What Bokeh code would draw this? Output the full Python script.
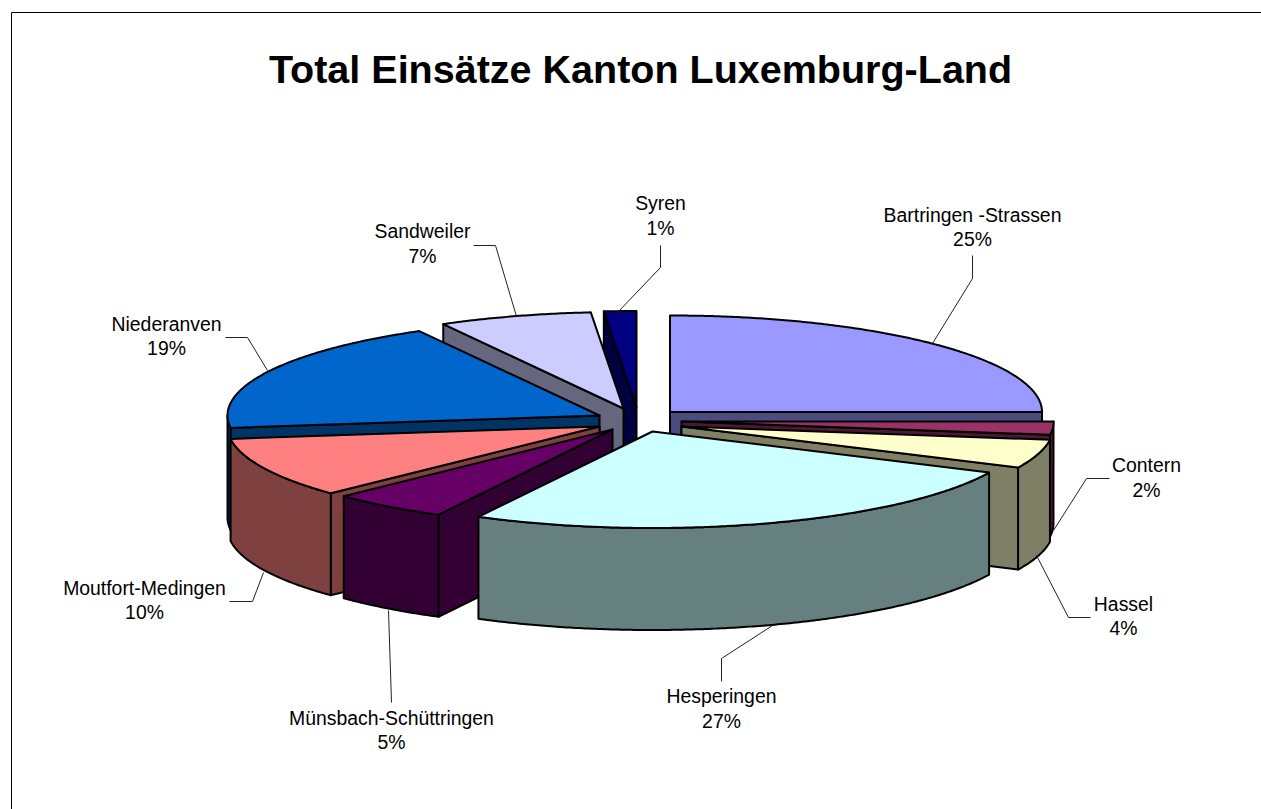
import numpy as np
from bokeh.plotting import figure
from bokeh.models import Range1d
from bokeh.core.properties import value
from bokeh.embed import file_html
from bokeh.resources import INLINE

# ---- data ----
TITLE = "Total Einsätze Kanton Luxemburg-Land"
names = ["Bartringen -Strassen", "Contern", "Hassel", "Hesperingen", "Münsbach-Schüttringen",
         "Moutfort-Medingen", "Niederanven", "Sandweiler", "Syren"]
shares = [25.0, 2.2, 4.8, 25.75, 5.1, 10.1, 19.0, 6.65, 1.4]   # slice sizes
percent_labels = ["25%", "2%", "4%", "27%", "5%", "10%", "19%", "7%", "1%"]
colors = ["#9999FF", "#993366", "#FFFFCC", "#CCFFFF", "#660066", "#FF8080", "#0066CC", "#CCCCFF", "#000080"]

# ---- layout ----
W, H = 1261, 809
CX, CY, RX, RY, DEPTH = 640, 420, 372, 96.5, 102
explode_dx = [29.5, 41, 41, 12, -28, -41, -41, -17, -4]
explode_dy = [-8.5, 1, 6, 11, 9, 6, -5, -12, -13]
paint_order = [8, 0, 7, 6, 1, 2, 5, 4, 3]
label_x = [972, 1146, 1123, 721, 391, 144, 166, 422, 660]
label_y1 = [214, 464, 603, 695, 717, 587, 323, 230, 202]
label_y2 = [238, 489, 627, 720, 741, 611, 347, 255, 227]
leaders_x = [[932, 972, 972], [1053, 1086, 1109], [1036, 1068, 1090], [772, 721, 721], [388, 391],
             [263, 252, 229], [267, 247, 225], [516, 495, 473], [617, 660, 660]]
leaders_y = [[343, 278, 255], [530, 478, 478], [555, 617, 617], [625, 658, 681], [610, 702],
             [572, 601, 601], [370, 337, 337], [316, 245, 245], [312, 267, 245]]
FONT = "Liberation Sans"


def shade(h, f=0.5):
    r, g, b = (int(h[i:i + 2], 16) for i in (1, 3, 5))
    return "#%02X%02X%02X" % (int(r * f), int(g * f), int(b * f))


def rim(ax, ay, a0, a1):
    t = np.radians(np.linspace(a0, a1, max(2, int(abs(a1 - a0) * 2) + 1)))
    return ax + RX * np.sin(t), ay - RY * np.cos(t)


edges = np.concatenate([[0], np.cumsum(shares)]) / sum(shares) * 360
xs, ys, fills = [], [], []
for i in paint_order:
    a0, a1 = edges[i], edges[i + 1]
    ax, ay = CX + explode_dx[i], CY + explode_dy[i]
    side = shade(colors[i])
    # cut faces that look towards the viewer
    for ang, visible in ((a0, -np.sin(np.radians(a0)) > 1e-6), (a1, np.sin(np.radians(a1)) > 1e-6)):
        if visible:
            ex, ey = rim(ax, ay, ang, ang)
            xs.append([ax, ex[0], ex[0], ax])
            ys.append([ay, ey[0], ey[0] + DEPTH, ay + DEPTH])
            fills.append(side)
    # outer wall (front half only)
    w0, w1 = max(a0, 90), min(a1, 270)
    if w1 > w0:
        wx, wy = rim(ax, ay, w0, w1)
        xs.append(list(wx) + list(wx[::-1]))
        ys.append(list(wy) + list(wy[::-1] + DEPTH))
        fills.append(side)
    # top face
    tx, ty = rim(ax, ay, a0, a1)
    xs.append([ax] + list(tx))
    ys.append([ay] + list(ty))
    fills.append(colors[i])

p = figure(width=W, height=H, output_backend="svg", toolbar_location=None,
           x_range=Range1d(0, W), y_range=Range1d(H, 0),
           x_axis_location=None, y_axis_location=None, min_border=0,
           background_fill_color="white", border_fill_color="white", outline_line_color=None)
p.grid.visible = False

# outer chart frame (left and top edges are in view)
p.line([11, 11, 1261], [809, 12, 12], line_color="black", line_width=1)

p.patches(xs, ys, fill_color=fills, line_color="black", line_width=2, line_join="round")
p.multi_line(leaders_x, leaders_y, line_color="#222222", line_width=1)

p.text(x=[640], y=[68], text=[TITLE], text_font=value(FONT), text_font_style="bold",
       text_font_size="39.5px", text_align="center", text_baseline="alphabetic", text_color="black")
p.text(x=label_x, y=label_y1, text=names, text_font=value(FONT), text_font_size="19.4px",
       text_align="center", text_baseline="alphabetic", text_color="black")
p.text(x=label_x, y=label_y2, text=percent_labels, text_font=value(FONT), text_font_size="19.4px",
       text_align="center", text_baseline="alphabetic", text_color="black")

open("out.html", "w").write(file_html(p, INLINE))
